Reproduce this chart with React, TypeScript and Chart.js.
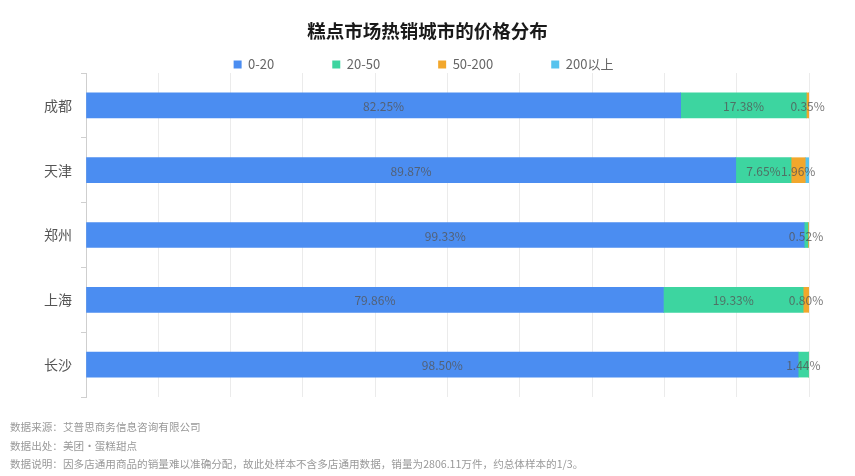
import React, { useEffect, useRef } from "react";
import { Chart, registerables } from "chart.js";

Chart.register(...registerables);

const titleText = "糕点市场热销城市的价格分布";
const cities = ["成都", "天津", "郑州", "上海", "长沙"];
const seriesNames = ["0-20", "20-50", "50-200", "200以上"];
const share0to20 = [82.25, 89.87, 99.33, 79.86, 98.5];
const share20to50 = [17.38, 7.65, 0.52, 19.33, 1.44];
const share50to200 = [0.35, 1.96, 0.15, 0.8, 0.06];
const share200plus = [0.02, 0.52, 0.0, 0.01, 0.0];
const seriesColors = ["#4b8df1", "#3dd5a0", "#f2a72c", "#56c3ee"];
const footerLines = [
  "数据来源：艾普思商务信息咨询有限公司",
  "数据出处：美团·蛋糕甜点",
  "数据说明：因多店通用商品的销量难以准确分配，故此处样本不含多店通用数据，销量为2806.11万件，约总体样本的1/3。",
];

const FONT = '"Noto Sans CJK SC", "Noto Sans", sans-serif';

const segmentLabels = {
  id: "segmentLabels",
  afterDatasetsDraw(chart: any) {
    const ctx = chart.ctx;
    ctx.save();
    ctx.font = `12px ${FONT}`;
    ctx.fillStyle = "rgba(85,85,85,0.78)";
    ctx.textAlign = "center";
    ctx.textBaseline = "middle";
    chart.data.datasets.forEach((ds: any, di: number) => {
      if (di >= 3) return;
      const meta = chart.getDatasetMeta(di);
      meta.data.forEach((el: any, i: number) => {
        const v = ds.data[i];
        if (v < 0.3) return;
        const p = el.getProps(["x", "y", "base"], true);
        ctx.fillText(v.toFixed(2) + "%", (p.x + p.base) / 2, p.y + 1);
      });
    });
    ctx.restore();
  },
};

export default function App() {
  const canvasRef = useRef<HTMLCanvasElement | null>(null);

  useEffect(() => {
    const all = [share0to20, share20to50, share50to200, share200plus];
    const chart = new Chart(canvasRef.current as HTMLCanvasElement, {
      type: "bar",
      data: {
        labels: cities,
        datasets: seriesNames.map((name, i) => ({
          label: name,
          data: all[i],
          backgroundColor: seriesColors[i],
          borderWidth: 0,
          barThickness: 25,
        })),
      },
      options: {
        indexAxis: "y",
        animation: false,
        responsive: false,
        maintainAspectRatio: false,
        layout: { padding: { top: 0, right: 46, bottom: 79, left: 38 } },
        plugins: {
          title: { display: false },
          tooltip: { enabled: false },
          legend: {
            display: true,
            position: "top",
            maxHeight: 73,
            labels: {
              boxWidth: 8,
              boxHeight: 8,
              padding: 58,
              color: "#666",
              font: { size: 13, family: FONT },
            },
          },
        },
        scales: {
          x: {
            stacked: true,
            min: 0,
            max: 100,
            ticks: { display: false, stepSize: 10 },
            grid: { color: "#ebebeb", drawTicks: false },
            border: { display: false },
            afterFit: (s: any) => {
              s.height = 0;
            },
          },
          y: {
            stacked: true,
            grid: {
              drawOnChartArea: false,
              drawTicks: true,
              tickLength: 5,
              color: "#cfcfcf",
              offset: true,
            },
            border: { color: "#cfcfcf" },
            ticks: { color: "#555", font: { size: 14, family: FONT }, padding: 9 },
            afterFit: (s: any) => {
              s.width = 48;
            },
          },
        },
      },
      plugins: [segmentLabels],
    } as any);
    return () => chart.destroy();
  }, []);

  return (
    <div
      style={{
        position: "fixed",
        left: 0,
        top: 0,
        width: 855,
        height: 476,
        background: "#fff",
        fontFamily: FONT,
      }}
    >
      <canvas ref={canvasRef} width={855} height={476} style={{ position: "absolute", left: 0, top: 0 }} />
      <div
        style={{
          position: "absolute",
          left: 0,
          top: 20,
          width: 855,
          textAlign: "center",
          fontSize: 18.5,
          lineHeight: "20px",
          fontWeight: 700,
          color: "#1a1a1a",
        }}
      >
        {titleText}
      </div>
      {footerLines.map((t, i) => (
        <div
          key={i}
          style={{
            position: "absolute",
            left: 10,
            top: 418 + i * 18.5,
            fontSize: 10.6,
            lineHeight: "18px",
            color: "#999",
            whiteSpace: "nowrap",
          }}
        >
          {t}
        </div>
      ))}
    </div>
  );
}
